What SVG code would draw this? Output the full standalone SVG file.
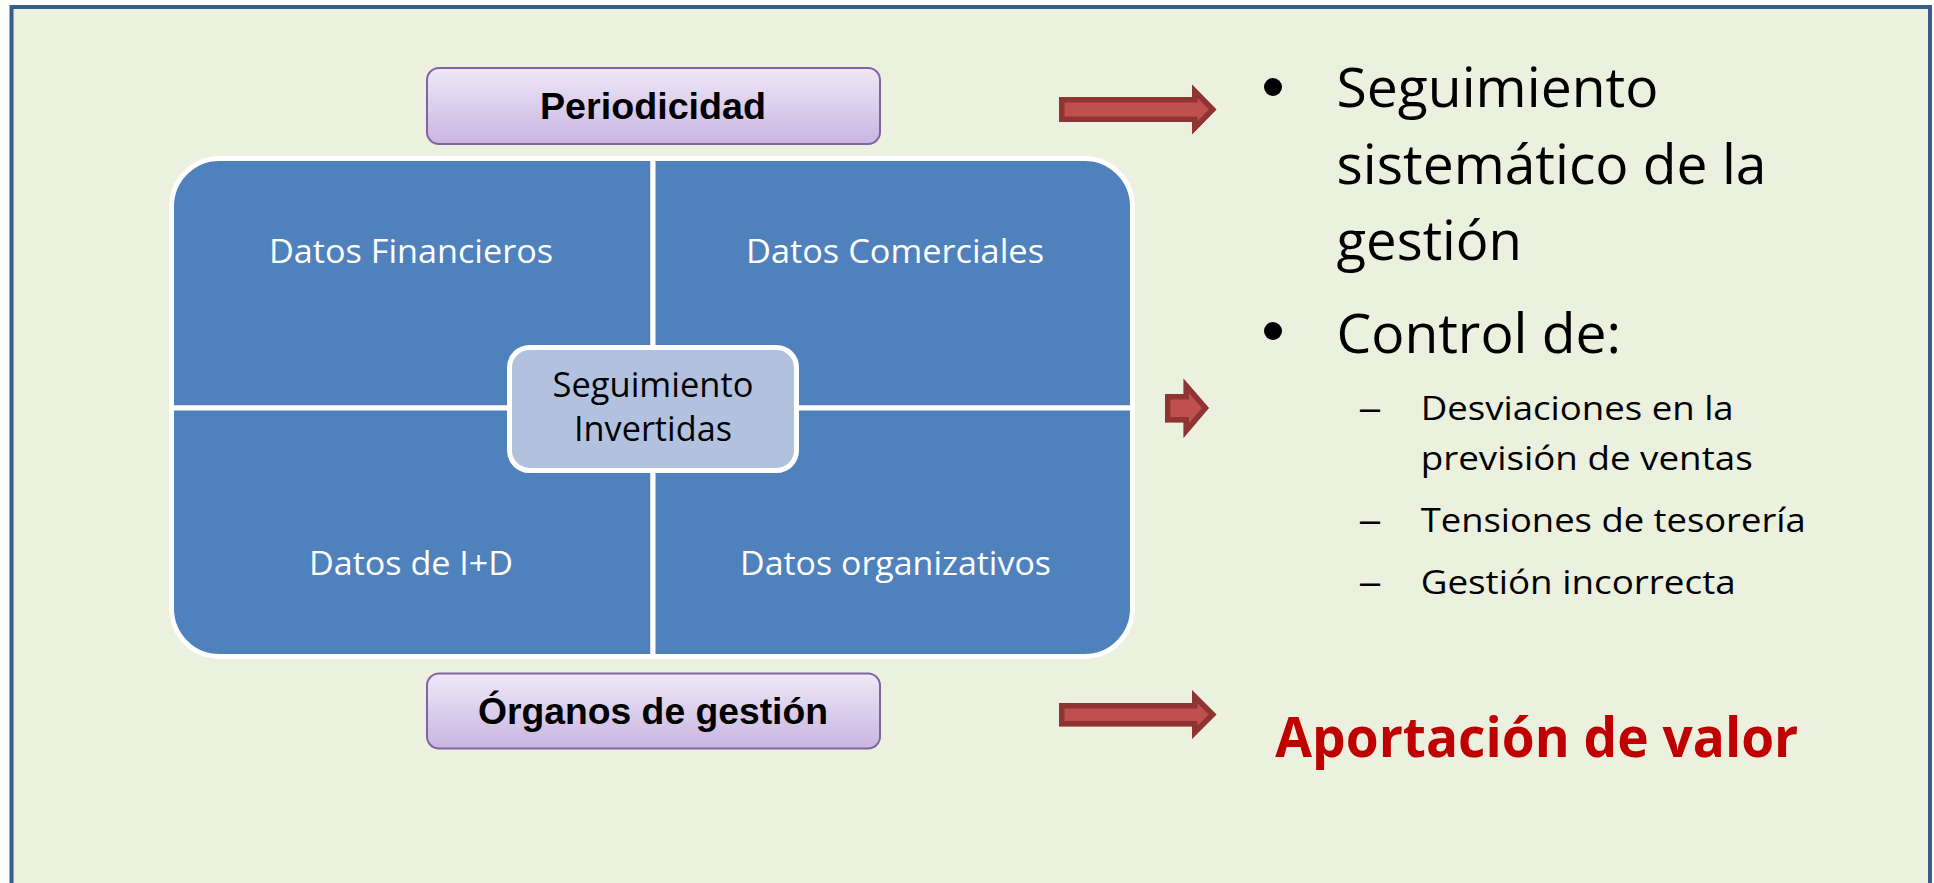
<svg xmlns="http://www.w3.org/2000/svg" width="1934" height="883" viewBox="0 0 1934 883">
<defs>
<linearGradient id="purp" x1="0" y1="0" x2="0" y2="1">
<stop offset="0" stop-color="#EEE8F7"/>
<stop offset="1" stop-color="#C9B5E2"/>
</linearGradient>
<clipPath id="a1"><polygon points="1059,97 1192,97 1192,84.5 1216.5,109.5 1192,134.5 1192,122 1059,122"/></clipPath>
<clipPath id="a2"><polygon points="1165,394 1183.5,394 1183.5,378.5 1209,408 1183.5,438 1183.5,422.5 1165,422.5"/></clipPath>
<clipPath id="a3"><polygon points="1059,703 1192,703 1192,690 1216.5,714.5 1192,739 1192,726.5 1059,726.5"/></clipPath>
</defs>
<style>
.cal{font-family:"Open Sans","Noto Sans","Liberation Sans",sans-serif;}
.ari{font-family:"Liberation Sans",Arial,sans-serif;font-weight:bold;}
.quad{fill:#4F81BD;stroke:#FFFFFF;stroke-width:5;}
.qt{fill:#FFFFFF;font-size:33px;text-anchor:middle;}
.pbox{fill:url(#purp);stroke:#8064A2;stroke-width:2;}
.ptxt{fill:#000000;font-size:37px;text-anchor:middle;}
.arr{fill:#C0504D;stroke:#8E3533;stroke-width:11;}
.big{fill:#000000;font-size:55px;}
.sub{fill:#000000;font-size:33px;}
</style>

<rect id="frame" x="11.5" y="7" width="1918.5" height="900" fill="#EBF1DE" stroke="#385D8A" stroke-width="4"/>

<g id="node-periodicidad">
<rect class="pbox" x="427" y="68" width="453" height="76" rx="12"/>
<text class="ari ptxt" x="653" y="119" textLength="226" lengthAdjust="spacingAndGlyphs">Periodicidad</text>
</g>

<g id="node-matrix">
<g id="node-financieros">
<path class="quad" d="M653,158.5 H219.5 A48,48 0 0 0 171.5,206.5 V408 H653 Z"/>
<text class="cal qt" x="411" y="263" textLength="284" lengthAdjust="spacingAndGlyphs">Datos Financieros</text>
</g>
<g id="node-comerciales">
<path class="quad" d="M653,158.5 H1084.5 A48,48 0 0 1 1132.5,206.5 V408 H653 Z"/>
<text class="cal qt" x="895" y="263" textLength="298" lengthAdjust="spacingAndGlyphs">Datos Comerciales</text>
</g>
<g id="node-imasd">
<path class="quad" d="M653,408 H171.5 V608.5 A48,48 0 0 0 219.5,656.5 H653 Z"/>
<text class="cal qt" x="411" y="575" textLength="204" lengthAdjust="spacingAndGlyphs">Datos de I+D</text>
</g>
<g id="node-organizativos">
<path class="quad" d="M653,408 H1132.5 V608.5 A48,48 0 0 1 1084.5,656.5 H653 Z"/>
<text class="cal qt" x="895.5" y="575" textLength="311" lengthAdjust="spacingAndGlyphs">Datos organizativos</text>
</g>
</g>

<g id="node-center">
<rect x="509.5" y="347.5" width="287" height="123" rx="20" fill="#B2C2DE" stroke="#FFFFFF" stroke-width="5"/>
<text class="cal" x="653" y="397" font-size="34" text-anchor="middle" fill="#000000" textLength="201" lengthAdjust="spacingAndGlyphs">Seguimiento</text>
<text class="cal" x="653" y="441" font-size="34" text-anchor="middle" fill="#000000" textLength="158" lengthAdjust="spacingAndGlyphs">Invertidas</text>
</g>

<g id="node-organos">
<rect class="pbox" x="427" y="673.5" width="453" height="75" rx="12"/>
<text class="ari ptxt" x="653" y="724" textLength="350" lengthAdjust="spacingAndGlyphs">Órganos de gestión</text>
</g>

<g id="connectors">
<polygon class="arr" clip-path="url(#a1)" points="1059,97 1192,97 1192,84.5 1216.5,109.5 1192,134.5 1192,122 1059,122"/>
<polygon class="arr" clip-path="url(#a2)" points="1165,394 1183.5,394 1183.5,378.5 1209,408 1183.5,438 1183.5,422.5 1165,422.5"/>
<polygon class="arr" clip-path="url(#a3)" points="1059,703 1192,703 1192,690 1216.5,714.5 1192,739 1192,726.5 1059,726.5"/>
</g>

<g id="node-list">
<circle cx="1273" cy="87" r="9" fill="#000000"/>
<text class="cal big" x="1336.5" y="107" textLength="322" lengthAdjust="spacingAndGlyphs">Seguimiento</text>
<text class="cal big" x="1336.5" y="184" textLength="430" lengthAdjust="spacingAndGlyphs">sistemático de la</text>
<text class="cal big" x="1336.5" y="260" textLength="185.5" lengthAdjust="spacingAndGlyphs">gestión</text>
<circle cx="1273" cy="331" r="9" fill="#000000"/>
<text class="cal big" x="1336.5" y="353" textLength="284.5" lengthAdjust="spacingAndGlyphs">Control de:</text>
<text class="cal sub" x="1358" y="420" textLength="24" lengthAdjust="spacingAndGlyphs">–</text>
<text class="cal sub" x="1420.7" y="420" textLength="313" lengthAdjust="spacingAndGlyphs">Desviaciones en la</text>
<text class="cal sub" x="1420.7" y="470" textLength="332" lengthAdjust="spacingAndGlyphs">previsión de ventas</text>
<text class="cal sub" x="1358" y="532" textLength="24" lengthAdjust="spacingAndGlyphs">–</text>
<text class="cal sub" x="1420.7" y="532" textLength="385" lengthAdjust="spacingAndGlyphs">Tensiones de tesorería</text>
<text class="cal sub" x="1358" y="594" textLength="24" lengthAdjust="spacingAndGlyphs">–</text>
<text class="cal sub" x="1420.7" y="594" textLength="315" lengthAdjust="spacingAndGlyphs">Gestión incorrecta</text>
</g>

<g id="node-valor">
<text class="cal" x="1275.3" y="757" font-size="55" font-weight="bold" fill="#C00000" textLength="523" lengthAdjust="spacingAndGlyphs">Aportación de valor</text>
</g>
</svg>
